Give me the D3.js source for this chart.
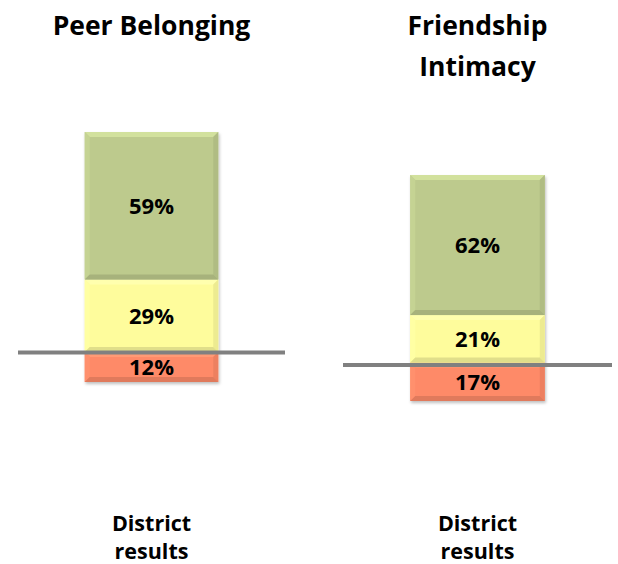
<!DOCTYPE html>
<html>
<head>
<meta charset="utf-8">
<script src="https://cdn.jsdelivr.net/npm/d3@7"></script>
<style>
  body { margin: 0; background: #fff; }
  text { font-family: "Open Sans", "Noto Sans", sans-serif; font-weight: bold; fill: #000; }
</style>
</head>
<body>
<div id="chart"></div>
<script>
// Chart data
const titles = [["Peer Belonging"], ["Friendship", "Intimacy"]];
const categories = ["District results"];
const segmentNames = ["low", "mid", "high"];
const lowValues = [12, 17];
const midValues = [29, 21];
const highValues = [59, 62];
const benchmarkValues = [11.8, 15.9];

const colors = { low: "#fe8a68", mid: "#fefc9c", high: "#bdca8d" };

// Each panel is a separate little chart with its own plot box
const panels = [
  { left: 18, right: 285, top: 132, bottom: 382 },
  { left: 343, right: 612, top: 175, bottom: 401 }
];

const width = 618, height = 564;

const svg = d3.select("#chart")
  .append("svg")
  .attr("width", width)
  .attr("height", height);

const defs = svg.append("defs");
const shadow = defs.append("filter").attr("id", "shadow")
  .attr("x", "-10%").attr("y", "-10%").attr("width", "120%").attr("height", "125%");
shadow.append("feDropShadow")
  .attr("dx", 1).attr("dy", 2).attr("stdDeviation", 1.5)
  .attr("flood-color", "#000").attr("flood-opacity", 0.25);

// Draw a beveled rectangle like the Excel shape style
function bevelRect(g, x, y, w, h, color) {
  const b = Math.min(5, h / 4);
  const c = d3.color(color);
  g.append("rect")
    .attr("x", x).attr("y", y).attr("width", w).attr("height", h)
    .attr("fill", color);
  const edges = [
    { pts: [[x, y], [x + w, y], [x + w - b, y + b], [x + b, y + b]], fill: c.brighter(0.3) },
    { pts: [[x, y], [x + b, y + b], [x + b, y + h - b], [x, y + h]], fill: c.brighter(0.12) },
    { pts: [[x + w, y], [x + w, y + h], [x + w - b, y + h - b], [x + w - b, y + b]], fill: c.darker(0.2) },
    { pts: [[x, y + h], [x + b, y + h - b], [x + w - b, y + h - b], [x + w, y + h]], fill: c.darker(0.35) }
  ];
  edges.forEach(e => {
    g.append("polygon")
      .attr("points", e.pts.map(p => p.join(",")).join(" "))
      .attr("fill", e.fill);
  });
}

panels.forEach((p, i) => {
  const g = svg.append("g");

  const x = d3.scaleBand()
    .domain(categories)
    .range([p.left, p.right])
    .padding(1 / 3);

  const y = d3.scaleLinear()
    .domain([0, 100])
    .range([p.bottom, p.top]);

  const row = { low: lowValues[i], mid: midValues[i], high: highValues[i] };
  const stacked = d3.stack().keys(segmentNames)([row]);

  const barG = g.append("g").attr("filter", "url(#shadow)");
  stacked.forEach(layer => {
    const d = layer[0];
    const x0 = x(categories[0]);
    const y0 = y(d[1]);
    const h = y(d[0]) - y(d[1]);
    bevelRect(barG, x0, y0, x.bandwidth(), h, colors[layer.key]);
  });

  // Value labels
  stacked.forEach(layer => {
    const d = layer[0];
    g.append("text")
      .attr("x", x(categories[0]) + x.bandwidth() / 2)
      .attr("y", (y(d[0]) + y(d[1])) / 2)
      .attr("dy", "0.36em")
      .attr("text-anchor", "middle")
      .style("font-size", "22px")
      .text(Math.round(d[1] - d[0]) + "%");
  });

  // Benchmark line
  g.append("line")
    .attr("x1", p.left).attr("x2", p.right)
    .attr("y1", y(benchmarkValues[i])).attr("y2", y(benchmarkValues[i]))
    .attr("stroke", "#808080")
    .attr("stroke-width", 4);

  // Title
  const cx = (p.left + p.right) / 2;
  g.append("text")
    .attr("text-anchor", "middle")
    .style("font-size", "26.5px")
    .selectAll("tspan")
    .data(titles[i])
    .join("tspan")
    .attr("x", cx)
    .attr("y", (d, j) => 35 + j * 41)
    .text(d => d);

  // Category label
  g.append("text")
    .attr("text-anchor", "middle")
    .style("font-size", "21.5px")
    .selectAll("tspan")
    .data(categories[0].split(" "))
    .join("tspan")
    .attr("x", cx)
    .attr("y", (d, j) => 531 + j * 28)
    .text(d => d);
});
</script>
</body>
</html>
